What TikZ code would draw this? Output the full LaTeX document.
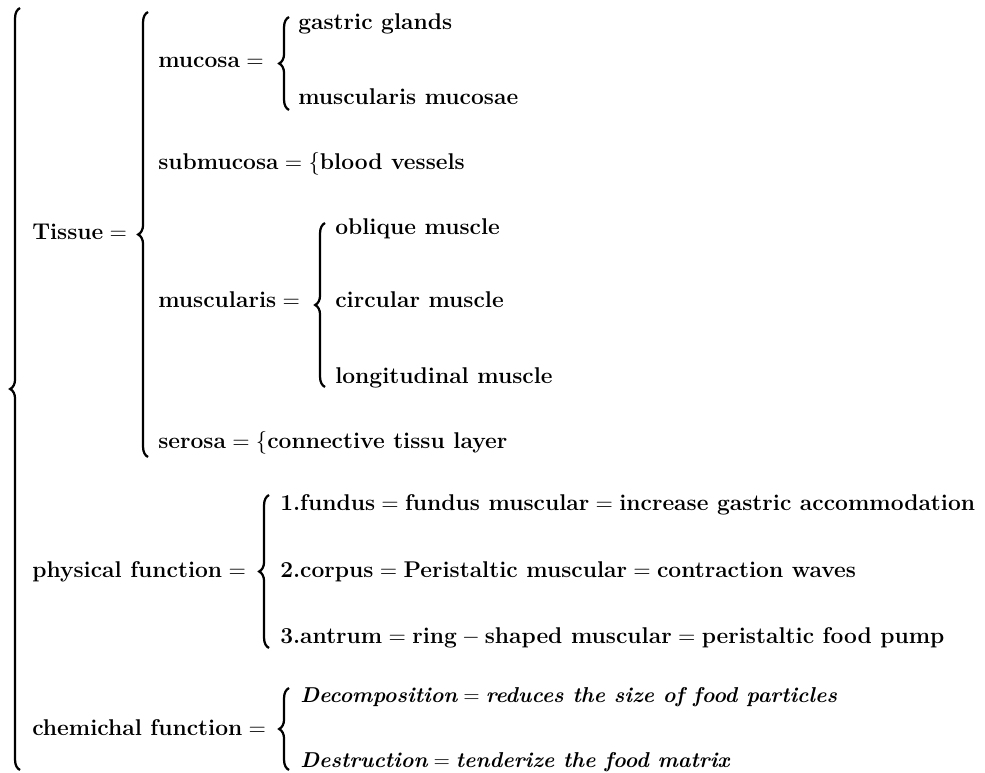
\documentclass[tikz,border=0pt]{standalone}
\usepackage{fix-cm}
\usepackage{fontspec}
\usepackage{tikz}
\usetikzlibrary{decorations.pathreplacing}

\begin{document}
\begin{tikzpicture}[x=0.025cm, y=-0.025cm,
  lbl/.style={anchor=base west, inner sep=0pt, font=\fontsize{16.2}{19}\selectfont\bfseries},
  itl/.style={lbl, font=\fontsize{15.3}{19}\selectfont\bfseries\itshape},
  brc/.style={decorate, decoration={brace, amplitude=7pt}, line width=1.6pt}
]
  \useasboundingbox (0,0) rectangle (985,773);

  % outer brace
  \draw[brc] (20,770) -- (20,8);

  % Tissue
  \node[lbl] (tissue) at (32,240) {Tissue${}=$};
  \draw[brc] (148,457) -- (148,12);
  \node[lbl] (mucosa) at (158,68) {mucosa${}=$};
  \draw[brc] (289,110) -- (289,17);
  \node[lbl] (gastric) at (298,30) {gastric glands};
  \node[lbl] (mucmus) at (298,105) {muscularis mucosae};
  \node[lbl] (submucosa) at (158,170) {submucosa${}=\{$blood vessels};
  \node[lbl] (muscularis) at (158,308) {muscularis${}=$};
  \draw[brc] (325,387) -- (325,223);
  \node[lbl] (oblique) at (335,235) {oblique muscle};
  \node[lbl] (circular) at (335,308) {circular muscle};
  \node[lbl] (longit) at (335,383) {longitudinal muscle};
  \node[lbl] (serosa) at (158,448) {serosa${}=\{$connective tissu layer};

  % physical function
  \node[lbl] (physical) at (32,577) {physical function${}=$};
  \draw[brc] (269,648) -- (269,495);
  \node[lbl] (fundus) at (280,510) {1.fundus${}={}$fundus muscular${}={}$increase gastric accommodation};
  \node[lbl] (corpus) at (280,577) {2.corpus${}={}$Peristaltic muscular${}={}$contraction waves};
  \node[lbl] (antrum) at (280,643) {3.antrum${}={}$ring${}-{}$shaped muscular${}={}$peristaltic food pump};

  % chemichal function
  \node[lbl] (chemichal) at (32,735) {chemichal function${}=$};
  \draw[brc] (289,770) -- (289,688);
  \node[itl] (decomp) at (300,702) {Decomposition${}={}$reduces the size of food particles};
  \node[itl] (destruct) at (300,767) {Destruction${}={}$tenderize the food matrix};
\end{tikzpicture}
\end{document}
